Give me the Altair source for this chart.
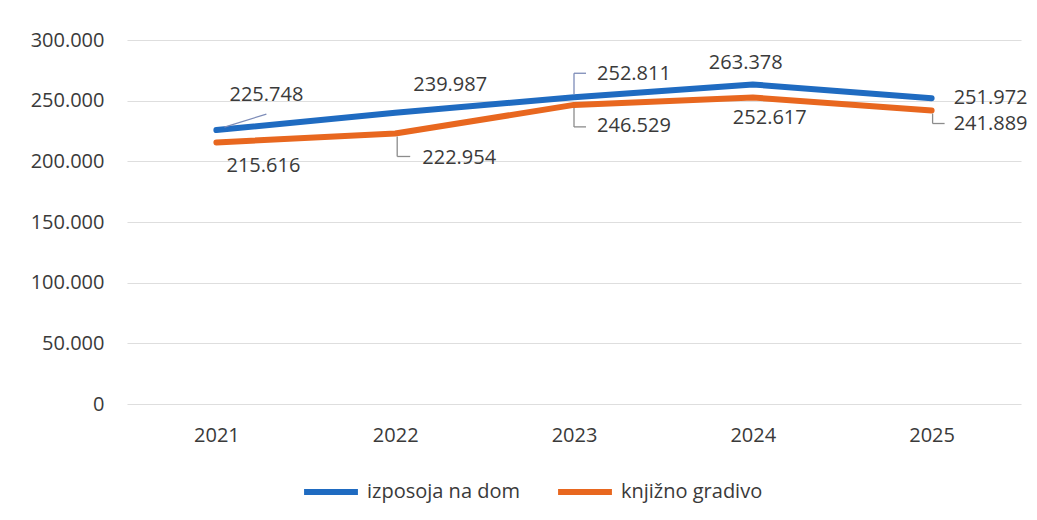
import altair as alt
import pandas as pd

years = ["2021", "2022", "2023", "2024", "2025"]
izposoja = [225748, 239987, 252811, 263378, 251972]
knjizno = [215616, 222954, 246529, 252617, 241889]
series_names = ["izposoja na dom", "knjižno gradivo"]
colors = ["#1f6bc1", "#e8671f"]
y_ticks = [0, 50000, 100000, 150000, 200000, 250000, 300000]

rows = []
for y, a, b in zip(years, izposoja, knjizno):
    rows.append({"year": y, "series": series_names[0], "value": a})
    rows.append({"year": y, "series": series_names[1], "value": b})
df = pd.DataFrame(rows)

FONT = "Open Sans"
TXT = "#3a3a3a"

x_enc = alt.X("year:N", sort=years, title=None,
              scale=alt.Scale(type="point", padding=0.5),
              axis=alt.Axis(labelAngle=0, labelFontSize=20, labelColor=TXT,
                            labelFont=FONT, ticks=False, domain=False,
                            labelPadding=21, grid=False))
y_enc = alt.Y("value:Q", title=None,
              scale=alt.Scale(domain=[0, 300000], nice=False),
              axis=alt.Axis(values=y_ticks, labelFontSize=20, labelColor=TXT,
                            labelFont=FONT, ticks=False, domain=False,
                            labelPadding=23, gridColor="#dedede",
                            gridWidth=1.2,
                            labelExpr="replace(format(datum.value, ','), ',', '.')"))

base = alt.Chart(df)

lines = base.mark_line(strokeWidth=6, strokeCap="round", strokeJoin="round").encode(
    x=x_enc, y=y_enc,
    color=alt.Color("series:N", sort=series_names,
                    scale=alt.Scale(domain=series_names, range=colors),
                    legend=alt.Legend(title=None, orient="none", direction="horizontal",
                                      legendX=174, legendY=422,
                                      symbolType="stroke", symbolStrokeWidth=6,
                                      symbolSize=2900, labelFontSize=20,
                                      labelFont=FONT, labelColor=TXT,
                                      columnPadding=26, labelOffset=6)),
)

# label offsets (dx, dy) and leader segments, style only
label_style = {
    (series_names[0], "2021"): ((50, -35), [((8, -3), (50, -16))]),
    (series_names[1], "2021"): ((47, 24), []),
    (series_names[0], "2022"): ((55, -28), []),
    (series_names[1], "2022"): ((64, 25), [((2, 3), (2, 23)), ((2, 23), (15, 23))]),
    (series_names[0], "2023"): ((60, -23), [((0, -3), (0, -24)), ((0, -24), (12, -24))]),
    (series_names[1], "2023"): ((60, 21), [((0, 3), (0, 22)), ((0, 22), (12, 22))]),
    (series_names[0], "2024"): ((-7, -21), []),
    (series_names[1], "2024"): ((17, 21), []),
    (series_names[0], "2025"): ((59, 0), []),
    (series_names[1], "2025"): ((59, 13), [((1, 3), (1, 13)), ((1, 13), (13, 13))]),
}

layers = [lines]
labelled = base.transform_calculate(
    label="replace(format(datum.value, ','), ',', '.')")
for (s, yr), ((dx, dy), segs) in label_style.items():
    flt = (alt.datum.series == s) & (alt.datum.year == yr)
    layers.append(
        labelled.transform_filter(flt).mark_text(
            dx=dx, dy=dy, fontSize=20, font=FONT, color=TXT,
            align="center", baseline="middle").encode(
            x=alt.X("year:N", sort=years), y="value:Q", text="label:N"))
    for (x0, y0), (x1, y1) in segs:
        layers.append(
            base.transform_filter(flt).mark_rule(
                color="#8c8c8c" if s == series_names[1] else "#7d8cb8",
                strokeWidth=1.3,
                xOffset=x0, yOffset=y0, x2Offset=x1, y2Offset=y1).encode(
                x=alt.X("year:N", sort=years), x2="year:N",
                y="value:Q", y2="value:Q"))

chart = alt.layer(*layers).properties(
    width=894, height=364,
    background="white",
    autosize=alt.AutoSizeParams(type="none"),
    padding={"left": 119, "top": 32, "right": 8, "bottom": 108},
).configure_view(stroke=None, strokeWidth=0)

chart.save("out.html", embed_options={"renderer": "svg", "actions": False})
